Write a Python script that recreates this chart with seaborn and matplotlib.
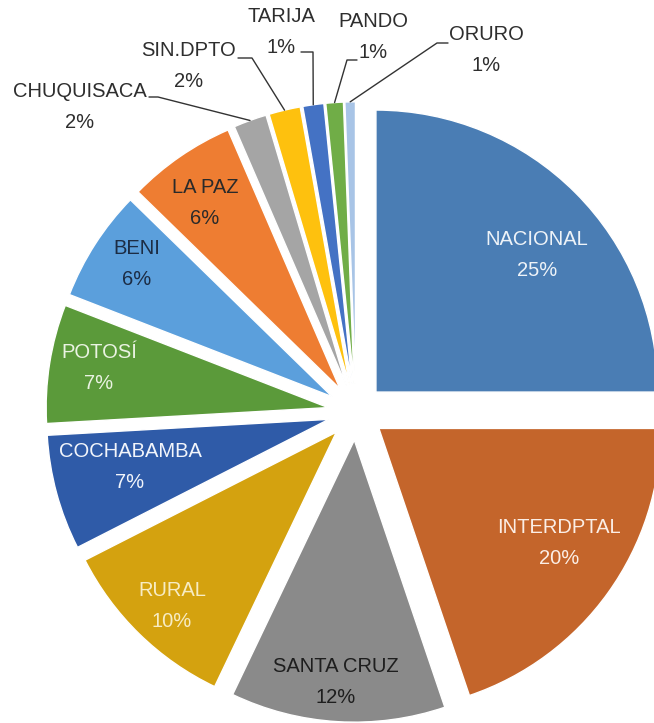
import numpy as np
import matplotlib
matplotlib.use("Agg")
import matplotlib.pyplot as plt
import seaborn as sns

categories = ["NACIONAL", "INTERDPTAL", "SANTA CRUZ", "RURAL", "COCHABAMBA",
              "POTOSÍ", "BENI", "LA PAZ", "CHUQUISACA", "SIN.DPTO", "TARIJA",
              "PANDO", "ORURO"]
values = [25.0, 19.8, 12.3, 10.4, 6.6, 6.8, 6.4, 6.2, 1.9, 1.8, 1.2, 1.0, 0.6]
colors = ["#4a7db4", "#c4652b", "#8a8a8a", "#d4a20f", "#2f5ba8", "#5b9a3a",
          "#5b9fdc", "#ee7d32", "#a5a5a5", "#fec10e", "#4472c4", "#70ad47",
          "#a8c4e6"]
text_colors = ["#eef3f8", "#fbeee6", "#1e1e1e", "#f7ecc4", "#f2f5fb",
               "#eaf3e2", "#1c2c44", "#2a2a2a"]

sns.set_theme(style="white")
plt.rcParams['font.family'] = ['Liberation Sans', 'DejaVu Sans']

W, H = 654, 723
fig = plt.figure(figsize=(W / 100, H / 100), dpi=100)
ax = fig.add_axes([0, 0, 1, 1])
R = 282.0
cx, cy = 356.0, 412.0


def px(x, y):
    return ((x - cx) / R, (cy - y) / R)


explode = [0.1] * len(values)
wedges, _ = ax.pie(values, colors=colors, startangle=90, counterclock=False,
                   explode=explode, radius=1.0,
                   wedgeprops=dict(edgecolor="white", linewidth=1.0))
ax.set_xlim(-cx / R, (W - cx) / R)
ax.set_ylim((cy - H) / R, cy / R)
ax.set_aspect("auto")
ax.axis("off")

total = sum(values)
pct = [f"{v / total * 100:.0f}%" for v in values]

fs = 14.5
ls = 1.75
# inside label centres (pixel layout)
in_pos = [(537, 255), (559, 543), (336, 682), (172, 606), (130, 467),
          (99, 368), (137, 264), (205, 203)]
for i in range(8):
    lx, ly = px(*in_pos[i])
    ax.text(lx, ly, f"{categories[i]}\n{pct[i]}", ha="center", va="center",
            fontsize=fs, color=text_colors[i], linespacing=ls)

# outside labels with leader lines
out_pos = {8: (80, 107), 9: (189, 66), 10: (281, 32), 11: (373, 37), 12: (486, 50)}
elbows = {8: [(149, 97), (158, 97)], 9: [(238, 58), (252, 58)],
          10: [(301, 52), (313, 52)], 11: [(357, 60), (347, 60)],
          12: [(448, 43), (437, 43)]}
for i in range(8, 13):
    w = wedges[i]
    th = np.deg2rad((w.theta1 + w.theta2) / 2)
    ox, oy = w.center
    ex, ey = ox + 1.0 * np.cos(th), oy + 1.0 * np.sin(th)
    lx, ly = px(*out_pos[i])
    ax.text(lx, ly, f"{categories[i]}\n{pct[i]}", ha="center", va="center",
            fontsize=fs, color="#2e2e2e", linespacing=ls)
    pts = [px(*p) for p in elbows[i]] + [(ex, ey)]
    ax.plot([p[0] for p in pts], [p[1] for p in pts], color="#333333", lw=1.0)

fig.savefig("out.png", dpi=100)
